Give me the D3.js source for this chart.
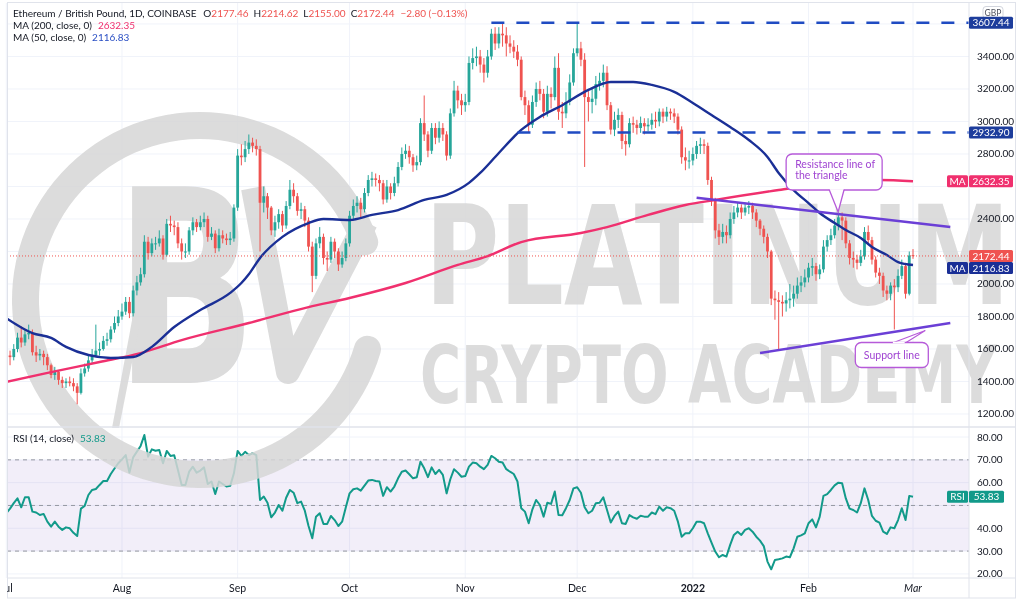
<!DOCTYPE html>
<html><head><meta charset="utf-8">
<script src="https://cdn.jsdelivr.net/npm/d3@7"></script>
<style>
body{margin:0;background:#fff;}
svg{display:block;font-family:Lato,"Open Sans",sans-serif;}
</style>
</head><body>
<svg id="chart" width="1024" height="601"></svg>
<script>
// ---------------- DATA ----------------
const startDay = [2021, 6, 1];          // 1 Jul 2021, daily candles
const firstOpen = 1580;
const closes = [
 // Jul
 1560,1550,1600,1670,1640,1690,1700,1580,1560,1570,1550,1500,1440,1460,1410,1390,1400,1390,1370,1330,1450,1480,1530,1560,1590,1600,1650,1660,1720,1760,1800,
 // Aug
 1830,1890,1820,1960,2010,2060,2260,2190,2250,2250,2280,2180,2370,2360,2350,2250,2200,2200,2330,2380,2350,2380,2400,2290,2310,2220,2300,2280,2270,2280,2470,
 // Sep
 2790,2780,2830,2870,2850,2830,2500,2540,2470,2330,2380,2430,2360,2480,2580,2540,2450,2460,2390,2230,2050,2250,2290,2160,2150,2260,2200,2120,2160,2250,
 // Oct
 2420,2480,2500,2460,2560,2640,2650,2640,2620,2520,2600,2560,2620,2720,2800,2820,2780,2730,2750,2990,2920,2820,2960,2900,2960,2920,2790,3050,3190,3130,3100,
 // Nov
 3120,3360,3390,3400,3350,3300,3400,3540,3480,3540,3530,3480,3460,3430,3380,3150,3100,2980,3120,3200,3170,3060,3170,3150,3330,3060,3050,3120,3240,3420,
 // Dec
 3450,3380,3150,3120,3140,3230,3250,3300,3100,2950,3010,3040,2880,2860,2990,2980,2960,2990,2970,2980,3010,3000,3060,3030,3060,3050,3030,2950,2780,2760,2760,
 // Jan
 2800,2850,2860,2850,2640,2520,2330,2290,2320,2300,2400,2440,2470,2440,2470,2480,2440,2390,2340,2290,2200,1910,1900,1890,1880,1900,1910,1940,1990,2010,2040,
 // Feb
 2100,2110,2060,2090,2230,2270,2300,2360,2410,2390,2250,2160,2150,2130,2170,2320,2270,2150,2070,2050,1960,1940,1990,1980,2050,2110,1940,2175.24,
 // Mar
 2172.44
];
const highs = [
 1620,1590,1630,1700,1740,1720,1750,1720,1620,1600,1590,1570,1510,1490,1470,1430,1420,1430,1420,1390,1480,1510,1560,1600,1750,1640,1680,1700,1740,1800,1840,
 1880,1920,1920,1990,2050,2100,2300,2290,2280,2290,2330,2300,2400,2420,2390,2380,2280,2250,2350,2410,2400,2420,2440,2420,2350,2330,2340,2330,2310,2320,2490,
 2830,2860,2880,2920,2900,2890,2850,2600,2560,2480,2420,2460,2450,2510,2640,2620,2560,2500,2480,2410,2260,2280,2350,2310,2200,2290,2280,2220,2200,2280,
 2450,2520,2540,2530,2590,2670,2690,2680,2670,2640,2640,2620,2660,2750,2840,2860,2850,2800,2790,3020,3160,2940,2990,2990,3000,2990,2940,3080,3250,3220,3170,
 3170,3400,3450,3460,3440,3390,3440,3570,3580,3580,3607.44,3580,3530,3500,3470,3400,3190,3130,3160,3240,3250,3200,3220,3210,3400,3420,3120,3180,3290,3450,
 3600,3490,3420,3200,3200,3280,3300,3350,3340,3120,3060,3080,3060,2920,3020,3030,3010,3030,3020,3020,3050,3060,3080,3080,3090,3080,3080,3050,2970,2840,2820,
 2840,2880,2900,2890,2870,2660,2530,2370,2370,2360,2440,2480,2500,2490,2500,2510,2500,2460,2400,2360,2310,2210,1960,1950,1930,1950,2000,1990,2040,2050,2090,
 2130,2160,2130,2120,2270,2300,2340,2400,2440,2440,2410,2270,2200,2180,2210,2350,2360,2290,2170,2100,2070,1990,2010,2030,2090,2150,2130,2200,
 2214.62
];
const lows = [
 1520,1500,1530,1580,1610,1620,1660,1560,1520,1530,1500,1470,1420,1410,1380,1360,1360,1370,1340,1260,1320,1430,1460,1510,1550,1560,1590,1620,1640,1700,1740,
 1780,1810,1790,1800,1930,1990,2040,2150,2170,2210,2230,2150,2170,2320,2300,2220,2150,2160,2180,2300,2320,2330,2350,2260,2270,2190,2200,2250,2240,2240,2260,
 2450,2730,2750,2800,2810,2790,2200,2440,2400,2300,2290,2340,2320,2340,2460,2500,2420,2400,2350,2200,1950,2030,2220,2120,2080,2130,2160,2080,2100,2140,
 2230,2390,2440,2410,2440,2540,2600,2600,2570,2490,2500,2520,2540,2600,2700,2770,2740,2690,2700,2730,2880,2780,2800,2860,2870,2880,2760,2770,3030,3080,3040,
 3060,3100,3320,3340,3300,3240,3270,3380,3440,3450,3460,3400,3420,3390,3340,3130,3040,2930,2960,3090,3130,3020,3030,3080,3130,3010,2960,3020,3100,3220,
 3400,3340,2720,3000,3050,3100,3190,3210,3070,2920,2910,2960,2830,2790,2840,2930,2920,2930,2920,2940,2950,2960,2970,2990,3000,3010,2990,2920,2740,2700,2710,
 2730,2770,2800,2800,2610,2480,2280,2240,2250,2250,2280,2370,2410,2400,2420,2430,2400,2350,2300,2250,2160,1870,1780,1600,1800,1830,1850,1860,1910,1950,1980,
 2010,2050,2020,2030,2070,2200,2240,2280,2330,2270,2220,2120,2100,2090,2110,2150,2240,2120,2040,2000,1920,1900,1900,1720,1950,2030,1910,1930,
 2155
];
const rsiValues = [
 46.6,48.6,51,53.1,49.2,53.6,53.6,47.3,46.9,45.8,46.3,42.9,40.7,42.9,40.7,39.3,40.4,40,38,36.6,48.6,49.8,54.6,56.8,57.2,59,60.7,60.7,63.8,66.2,68.5,
 70.2,72.1,64.4,71.1,73.6,76.1,80.9,71.4,74.6,74,74.3,68.5,73.9,71.7,72,65.6,59,59,64.8,67,64.4,65.3,66.7,59.4,60.5,55,60.5,59.4,58.3,58.6,64.1,
 73.9,71.7,73.5,72.1,72.9,72.1,52.4,53.9,51.2,44.8,46.9,50.2,47.7,53.4,56.8,55.6,51,51.7,47.7,41,35.6,45.1,46.6,41.9,41.9,45.4,43.6,41,42.9,49.2,
 55.3,57.1,57.5,56.5,58.7,60.9,61.2,60.7,60.5,54.2,58,56.1,58.3,61.9,64.8,65.3,63.7,61.9,62.4,69.2,66.3,62.4,66.7,63.8,65.6,63.4,55.3,61.5,65.9,64.4,62.6,
 62.9,67,68.8,68.5,67,65.9,67.8,71.7,70.7,69.2,68.8,65.9,64.8,63.8,60.5,48.8,47.3,42.2,48.3,52.4,50.2,45.1,51.2,50.7,56.1,45.8,45.7,48.8,52.4,57.5,
 58,55.6,49.2,46.6,47.7,51,51.2,53.6,48,42.5,45.4,47.3,42.2,41.9,45.8,44.8,44.2,45.5,45.1,45.1,46.9,46.2,49.5,47.7,49.2,48.8,47.7,42.9,36.3,37.8,37.8,
 40,42.9,42.9,42.2,37.8,33.7,29.8,27.3,28.3,27.6,32.7,37.1,38.5,37.1,39.3,40,38.5,36.3,34.6,32.2,25.4,22,26.1,26.4,26.8,27.6,27.3,31.2,36.3,36.9,37.8,
 42.2,43.9,40.4,45.1,54.2,55,56.8,58.8,60,59.7,53.1,48.6,48,46.9,51,57.5,52.4,45.4,43.3,42.5,38.5,37.5,40.4,40,43.6,48.8,43.6,54.2,
 53.83
];
// moving averages (day index, value)
const ma50Days = [0,7,12,16,22,28,34,39,45,52,60,63,65,68,74,81,85,92,98,105,112,118,124,127,132,138,143,149,156,162,168,173,179,184,189,194,199,204,207,211,215,218,222,225,229,232,236,239,243];
const ma50Vals = [1790,1698,1668,1613,1563,1545,1551,1613,1735,1840,1945,2006,2060,2160,2290,2375,2400,2394,2425,2455,2517,2548,2622,2683,2806,2948,3028,3100,3194,3243,3243,3225,3182,3114,3040,2966,2886,2782,2683,2578,2498,2437,2375,2332,2283,2228,2178,2135,2116.83];
const ma200Days = [0,12,25,36,47,65,81,92,107,121,129,138,154,161,172,182,190,207,221,234,243];
const ma200Vals = [1397,1458,1520,1575,1655,1760,1858,1914,2006,2117,2172,2258,2314,2350,2425,2486,2517,2578,2622,2640,2632.35];

const priceTicks = [1200,1400,1600,1800,2000,2200,2400,2600,2800,3000,3200,3400,3600];
const rsiTicks = [20,30,40,50,60,70,80];
const rsiLevels = [70,50,30];
const monthTicks = ["2021-07-01","2021-08-01","2021-09-01","2021-10-01","2021-11-01","2021-12-01","2022-01-01","2022-02-01","2022-03-01"];
const monthLabels = ["Jul","Aug","Sep","Oct","Nov","Dec","2022","Feb","Mar"];
const hLevels = [3607.44, 2932.90];
const hLevelStart = ["2021-11-08","2021-11-15"];
const resistance = [["2022-01-02",2530],["2022-03-11",2350]];
const support = [["2022-01-19",1575],["2022-03-11",1760]];
const titleText = "Ethereum / British Pound, 1D, COINBASE";
const ohlcLetters = ["O","H","L","C"];
const ohlcValues = ["2177.46","2214.62","2155.00","2172.44"];
const changeText = "\u22122.80 (\u22120.13%)";
const ma200Label = "MA (200, close, 0)";
const ma50Label = "MA (50, close, 0)";
const rsiLabel = "RSI (14, close)";
const resistanceNote = ["Resistance line of","the triangle"];
const supportNote = "Support line";
const watermarkWords = ["PLATINUM","CRYPTO ACADEMY"];

// ---------------- LAYOUT ----------------
const svg = d3.select("#chart");
const L = 7, R = 969, AX = 1016, PT = 3, PB = 427, RT = 427, RB = 578, B = 598;
const UP = "#26a69a", DOWN = "#ef5350";
const dayDate = i => new Date(Date.UTC(startDay[0], startDay[1], startDay[2] + i));
const parse = d3.utcParse("%Y-%m-%d");
const n = closes.length;
const x = d3.scaleUtc().domain([dayDate(0), dayDate(243)]).range([6.3, 913]);
const y = d3.scaleLinear().domain([1120, 3729]).range([PB, PT]);
const yr = d3.scaleLinear().domain([18.2, 84.4]).range([RB, RT]);

const defs = svg.append("defs");
defs.append("clipPath").attr("id","cp").append("rect").attr("x",L).attr("y",PT).attr("width",R-L).attr("height",PB-PT);
defs.append("clipPath").attr("id","cr").append("rect").attr("x",L).attr("y",RT).attr("width",R-L).attr("height",RB-RT);
defs.append("clipPath").attr("id","ca").append("rect").attr("x",L).attr("y",0).attr("width",R-L).attr("height",601);

svg.append("rect").attr("width",1024).attr("height",601).attr("fill","#fff");

// grid
const grid = svg.append("g");
grid.selectAll(".hg").data(priceTicks).join("line")
  .attr("x1",L).attr("x2",R).attr("y1",d=>y(d)).attr("y2",d=>y(d))
  .attr("stroke","#f0f3fa").attr("stroke-width",1);
grid.selectAll(".rg").data(rsiTicks).join("line")
  .attr("x1",L).attr("x2",R).attr("y1",d=>yr(d)).attr("y2",d=>yr(d))
  .attr("stroke","#f0f3fa").attr("stroke-width",1);
grid.selectAll(".vg").data(monthTicks).join("line")
  .attr("x1",d=>x(parse(d))).attr("x2",d=>x(parse(d))).attr("y1",PT).attr("y2",RB)
  .attr("stroke","#f0f3fa").attr("stroke-width",1);

// RSI band
const rsiG = svg.append("g").attr("clip-path","url(#cr)");
rsiG.append("rect").attr("x",L).attr("width",R-L).attr("y",yr(70)).attr("height",yr(30)-yr(70))
  .attr("fill","#7e57c2").attr("fill-opacity",0.1);

// watermark
const wm = svg.append("g").attr("fill","#d6d6d6").attr("opacity",0.85);
const deg = Math.PI/180;
wm.append("path").attr("transform","translate(200,300)")
  .attr("d", d3.arc().innerRadius(161).outerRadius(188).startAngle(102*deg).endAngle(435*deg).cornerRadius(13)());
function fitText(g, str, x0, base, size, width){
  const t = g.append("text").attr("font-family","DejaVu Sans").attr("font-weight","bold")
    .attr("font-size",size).text(str);
  const w = t.node().getComputedTextLength();
  t.attr("transform",`translate(${x0},${base}) scale(${width/w},1)`);
  return t;
}
fitText(wm, "B", 115, 383, 270, 142);
wm.append("path").attr("d","M253,188 L288,372 L366,222").attr("fill","none").attr("stroke","#d6d6d6")
  .attr("stroke-width",24).attr("stroke-linejoin","round");
wm.append("path").attr("d","M112,428 L119,428 L150,272 L141,272 Z");
fitText(wm, watermarkWords[0], 425, 304, 138, 585);
fitText(wm, watermarkWords[1], 420, 403, 81, 577);

// RSI levels + line
rsiG.selectAll(".lv").data(rsiLevels).join("line")
  .attr("x1",L).attr("x2",R).attr("y1",d=>yr(d)).attr("y2",d=>yr(d))
  .attr("stroke","#9598a1").attr("stroke-width",1).attr("stroke-dasharray","4,4");
rsiG.append("path").datum(rsiValues)
  .attr("d", d3.line().x((d,i)=>x(dayDate(i))).y(d=>yr(d)))
  .attr("fill","none").attr("stroke","#129a8a").attr("stroke-width",2).attr("stroke-linejoin","round");

// price pane
const pg = svg.append("g").attr("clip-path","url(#cp)");
const candles = closes.map((c,i)=>({i, o: i? closes[i-1] : firstOpen, c, h: highs[i], l: lows[i]}));
candles[n-1].o = +ohlcValues[0];
const cg = pg.append("g");
cg.selectAll("line").data(candles).join("line")
  .attr("x1",d=>x(dayDate(d.i))).attr("x2",d=>x(dayDate(d.i)))
  .attr("y1",d=>y(Math.max(d.h,d.o,d.c))).attr("y2",d=>y(Math.min(d.l,d.o,d.c)))
  .attr("stroke",d=>d.c>=d.o?UP:DOWN).attr("stroke-width",1);
cg.selectAll("rect").data(candles).join("rect")
  .attr("x",d=>x(dayDate(d.i))-1.4).attr("width",2.8)
  .attr("y",d=>y(Math.max(d.o,d.c)))
  .attr("height",d=>Math.max(1,y(Math.min(d.o,d.c))-y(Math.max(d.o,d.c))))
  .attr("fill",d=>d.c>=d.o?UP:DOWN);

// moving averages
const maLine = d3.line().x(d=>x(dayDate(d[0]))).y(d=>y(d[1])).curve(d3.curveMonotoneX);
pg.append("path").datum(ma200Days.map((d,i)=>[d,ma200Vals[i]])).attr("d",maLine)
  .attr("fill","none").attr("stroke","#f0306e").attr("stroke-width",2.4);
pg.append("path").datum(ma50Days.map((d,i)=>[d,ma50Vals[i]])).attr("d",maLine)
  .attr("fill","none").attr("stroke","#1a2f96").attr("stroke-width",2.4);

// horizontal levels
pg.selectAll(".hl").data(hLevels).join("line")
  .attr("x1",(d,i)=>x(parse(hLevelStart[i]))).attr("x2",R)
  .attr("y1",d=>y(d)).attr("y2",d=>y(d))
  .attr("stroke","#1f4bc2").attr("stroke-width",2.5).attr("stroke-dasharray","13,12");

// trend lines
[resistance, support].forEach(seg=>{
  pg.append("line")
    .attr("x1",x(parse(seg[0][0]))).attr("y1",y(seg[0][1]))
    .attr("x2",x(parse(seg[1][0]))).attr("y2",y(seg[1][1]))
    .attr("stroke","#6b3fd6").attr("stroke-width",2.5);
});

// current price dotted line
pg.append("line").attr("x1",L).attr("x2",R).attr("y1",y(closes[n-1])).attr("y2",y(closes[n-1]))
  .attr("stroke","#ef5350").attr("stroke-width",1).attr("stroke-dasharray","1,2");

// callouts
const co = svg.append("g");
const calloutStroke = "#b65ad9", calloutText = "#a044d2";
const rb = {x: x(parse("2022-01-26")), y: y(2800)};
co.append("rect").attr("x",rb.x).attr("y",rb.y).attr("width",96).attr("height",36).attr("rx",6)
  .attr("fill","#fff").attr("stroke",calloutStroke).attr("stroke-width",1.3);
co.append("path").attr("d",`M${rb.x+43},${rb.y+35.5} L${rb.x+52},${rb.y+58} L${rb.x+58},${rb.y+35.5}`)
  .attr("fill","#fff").attr("stroke",calloutStroke).attr("stroke-width",1.3);
co.append("line").attr("x1",rb.x+43.7).attr("x2",rb.x+57.3).attr("y1",rb.y+35).attr("y2",rb.y+35).attr("stroke","#fff").attr("stroke-width",1.6);
co.append("text").attr("x",rb.x+9).attr("y",rb.y+14).attr("font-size",10.5).attr("fill",calloutText).text(resistanceNote[0]);
co.append("text").attr("x",rb.x+9).attr("y",rb.y+25.5).attr("font-size",10.5).attr("fill",calloutText).text(resistanceNote[1]);

const sb = {x: x(parse("2022-02-13"))+2, y: y(1640)};
co.append("path").attr("d",`M${sb.x+37},${sb.y+0.5} L${sb.x+70},${sb.y-12} L${sb.x+50},${sb.y+0.5}`)
  .attr("fill","#fff").attr("stroke",calloutStroke).attr("stroke-width",1.1);
co.append("rect").attr("x",sb.x).attr("y",sb.y).attr("width",73).attr("height",25).attr("rx",6)
  .attr("fill","#fff").attr("stroke",calloutStroke).attr("stroke-width",1.3);
co.append("line").attr("x1",sb.x+37.6).attr("x2",sb.x+49.4).attr("y1",sb.y).attr("y2",sb.y).attr("stroke","#fff").attr("stroke-width",1.6);
co.append("text").attr("x",sb.x+36.5).attr("y",sb.y+16.5).attr("text-anchor","middle").attr("font-size",10.5).attr("fill",calloutText).text(supportNote);

// frame & separators
svg.append("rect").attr("x",L+0.5).attr("y",2.5).attr("width",AX-L-1).attr("height",B-2.5)
  .attr("fill","none").attr("stroke","#e0e3eb");
svg.append("line").attr("x1",L).attr("x2",AX).attr("y1",RT).attr("y2",RT).attr("stroke","#e0e3eb").attr("stroke-width",1.5);
svg.append("line").attr("x1",L).attr("x2",AX).attr("y1",RB).attr("y2",RB).attr("stroke","#e0e3eb");
svg.append("line").attr("x1",R).attr("x2",R).attr("y1",2.5).attr("y2",B).attr("stroke","#e0e3eb");

// tag positions (tick labels under a tag are hidden)
const priceTagYs = [...hLevels.map(v=>y(v)), y(ma200Vals[ma200Vals.length-1]), y(closes[n-1]), y(closes[n-1])+12];
const rsiTagYs = [yr(rsiValues[n-1])];
const free = (yy, tags) => tags.every(t => Math.abs(t-yy) > 9.5);

// right axis labels
const ax = svg.append("g").attr("font-size",10).attr("fill","#131722");
ax.selectAll(".pl").data(priceTicks.filter(d=>free(y(d),priceTagYs))).join("text").attr("x",977).attr("y",d=>y(d)+3.5).text(d=>d.toFixed(2));
ax.selectAll(".rl").data(rsiTicks.filter(d=>free(yr(d),rsiTagYs))).join("text").attr("x",977).attr("y",d=>yr(d)+3.5).text(d=>d.toFixed(2));

// time axis
const ta = svg.append("g").attr("clip-path","url(#ca)").attr("font-size",10.5).attr("fill","#131722").attr("text-anchor","middle");
ta.selectAll("text").data(monthTicks).join("text")
  .attr("x",d=>x(parse(d))).attr("y",592)
  .attr("font-weight",(d,i)=>monthLabels[i]==="2022"?"bold":"normal")
  .attr("font-style",(d,i)=>i===monthTicks.length-1?"italic":"normal")
  .text((d,i)=>monthLabels[i]);

// tags
function tag(yc, label, fill, xl, w){
  svg.append("rect").attr("x",xl).attr("y",yc-6).attr("width",w).attr("height",12).attr("rx",1.5).attr("fill",fill);
  svg.append("text").attr("x",xl+w/2).attr("y",yc+3.6).attr("text-anchor","middle")
    .attr("font-size",10).attr("fill","#fff").text(label);
}
svg.append("rect").attr("x",983).attr("y",6.5).attr("width",20).attr("height",12).attr("rx",3)
  .attr("fill","#fff").attr("stroke","#d1d4dc");
svg.append("text").attr("x",993).attr("y",15.5).attr("text-anchor","middle").attr("font-size",8.5).attr("fill","#50535e").text("GBP");
hLevels.forEach(v=>tag(y(v), v.toFixed(2), "#1d3d9c", 969, 44));
tag(y(ma200Vals[ma200Vals.length-1]), "MA", "#f0306e", 947, 21);
tag(y(ma200Vals[ma200Vals.length-1]), ma200Vals[ma200Vals.length-1].toFixed(2), "#f0306e", 969, 44);
tag(y(closes[n-1]), closes[n-1].toFixed(2), "#ef5350", 969, 44);
tag(y(closes[n-1])+12, "MA", "#1a2f96", 947, 21);
tag(y(closes[n-1])+12, ma50Vals[ma50Vals.length-1].toFixed(2), "#1a2f96", 969, 44);
tag(yr(rsiValues[n-1]), "RSI", "#129a8a", 947, 21);
tag(yr(rsiValues[n-1]), rsiValues[n-1].toFixed(2), "#129a8a", 969, 35);

// legend
const lg = svg.append("g").attr("font-size",10);
const t1 = lg.append("text").attr("x",13).attr("y",17).attr("fill","#131722");
t1.append("tspan").text(titleText);
ohlcLetters.forEach((l,i)=>{
  t1.append("tspan").attr("dx",i===0?7:5).attr("fill","#131722").text(l);
  t1.append("tspan").attr("fill","#ef5350").text(ohlcValues[i]);
});
t1.append("tspan").attr("dx",6).attr("fill","#ef5350").text(changeText);
const t2 = lg.append("text").attr("x",13).attr("y",29).attr("fill","#131722");
t2.append("tspan").text(ma200Label);
t2.append("tspan").attr("dx",6).attr("fill","#f0306e").text(ma200Vals[ma200Vals.length-1].toFixed(2));
const t3 = lg.append("text").attr("x",13).attr("y",41).attr("fill","#131722");
t3.append("tspan").text(ma50Label);
t3.append("tspan").attr("dx",6).attr("fill","#2a4fc4").text(ma50Vals[ma50Vals.length-1].toFixed(2));
const t4 = lg.append("text").attr("x",13).attr("y",442).attr("fill","#131722");
t4.append("tspan").text(rsiLabel);
t4.append("tspan").attr("dx",6).attr("fill","#129a8a").text(rsiValues[n-1].toFixed(2));
</script>
</body></html>
